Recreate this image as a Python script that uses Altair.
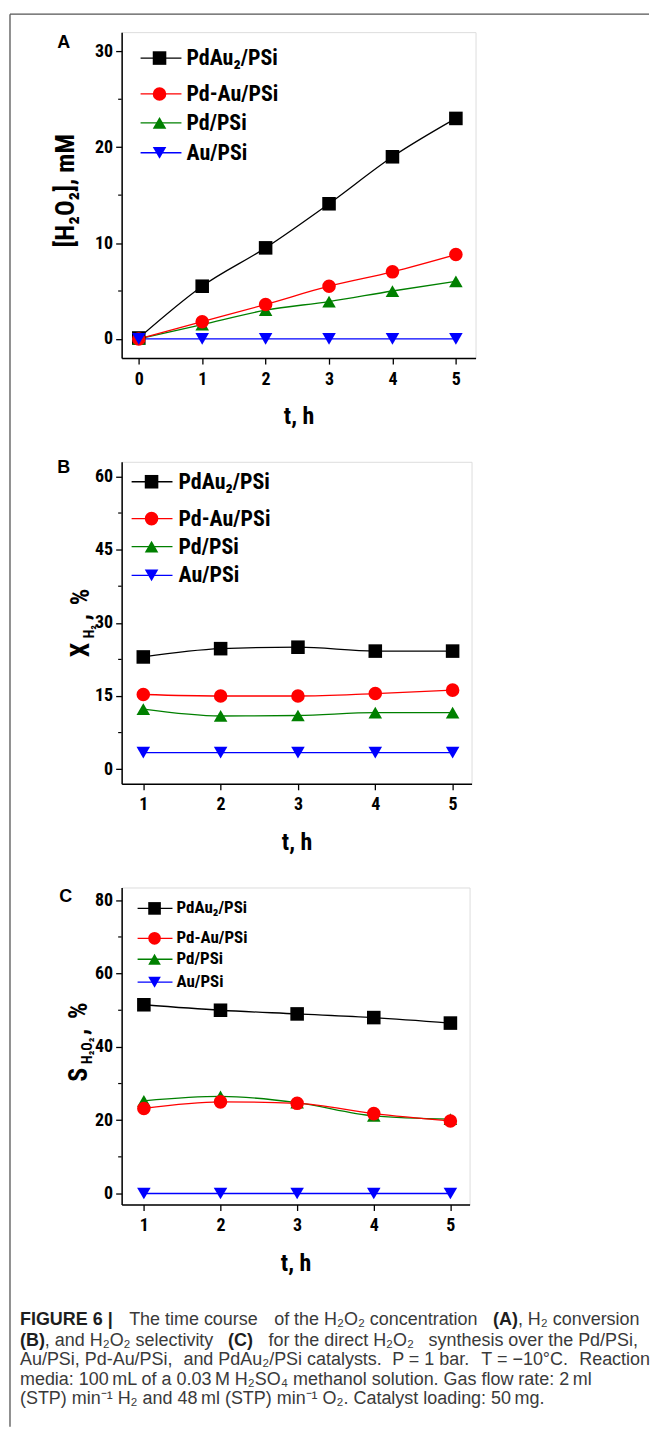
import altair as alt
import pandas as pd

# ---------------- data ----------------
series_names = ["PdAu₂/PSi", "Pd-Au/PSi", "Pd/PSi", "Au/PSi"]
series_colors = ["#000000", "#ff0000", "#008000", "#0000ff"]
series_shapes = ["square", "circle", "triangle-up", "triangle-down"]
draw_order = [0, 2, 1, 3]  # black, green, red, blue (blue on top)

t_a = [0, 1, 2, 3, 4, 5]
a_pdau2 = [0.1, 5.5, 9.5, 14.1, 19.0, 23.0]
a_pdau = [0.0, 1.8, 3.6, 5.5, 7.0, 8.8]
a_pd = [0.0, 1.5, 3.0, 3.9, 5.0, 6.0]
a_au = [0.0, 0.0, 0.0, 0.0, 0.0, 0.0]

t_bc = [1, 2, 3, 4, 5]
b_pdau2 = [23.0, 24.7, 25.0, 24.2, 24.2]
b_pdau = [15.3, 15.0, 15.0, 15.5, 16.2]
b_pd = [12.3, 10.9, 11.0, 11.6, 11.6]
b_au = [3.4, 3.4, 3.4, 3.4, 3.4]

c_pdau2 = [51.5, 50.0, 49.0, 48.0, 46.5]
c_pdau = [23.2, 25.0, 24.6, 21.8, 19.8]
c_pd = [25.3, 26.5, 24.8, 21.2, 20.3]
c_au = [0.0, 0.0, 0.0, 0.0, 0.0]

a_xticks = [0, 1, 2, 3, 4, 5]
bc_xticks = [1, 2, 3, 4, 5]
a_yticks = [0, 10, 20, 30]
a_yminor = [5, 15, 25]
b_yticks = [0, 15, 30, 45, 60]
b_yminor = [7.5, 22.5, 37.5, 52.5]
c_yticks = [0, 20, 40, 60, 80]
c_yminor = [10, 30, 50, 70]

panel_letters = ["A", "B", "C"]
x_title = "t, h"
a_ytitle = "[H₂O₂], mM"
b_ytitle = [("X", "main"), ("H₂", "sub"), (",", "main"), ("%", "main")]
c_ytitle = [("S", "main"), ("H₂O₂", "sub"), (",", "main"), ("%", "main")]

caption_lines = [
    [("FIGURE 6 |", True), ("The time course", False), ("of the H₂O₂ concentration", False),
     ("(A)", True), (", H₂ conversion", False)],
    [("(B)", True), (", and H₂O₂ selectivity", False), ("(C)", True), ("for the direct H₂O₂", False),
     ("synthesis over the Pd/PSi,", False)],
    [("Au/PSi, Pd-Au/PSi,", False), ("and PdAu₂/PSi catalysts.", False), ("P = 1 bar.", False),
     ("T = −10°C.", False), ("Reaction", False)],
    [("media: 100\u2009mL of a 0.03\u2009M H₂SO₄ methanol solution. Gas flow rate: 2\u2009ml", False)],
    [("(STP) min⁻¹ H₂ and 48\u2009ml (STP) min⁻¹ O₂. Catalyst loading: 50\u2009mg.", False)],
]
caption_space = [
    [False, True, True, True, False],
    [False, False, True, True, True],
    [False, True, True, True, True],
    [False],
    [False],
]

# ---------------- layout helpers ----------------
NARROW = "Roboto Condensed, Liberation Sans, sans-serif"
SANS = "Liberation Sans, Arial, sans-serif"

AR = {' ': .278, '!': .278, '(': .333, ')': .333, ',': .278, '-': .333, '.': .278, '/': .278,
      ':': .278, '=': .584, '|': .26, '°': .4, '−': .584, '\u2009': .17, '₂': .36, '₄': .36,
      '⁻': .36, '¹': .36}
for ch in "0123456789":
    AR[ch] = .556
AR.update(dict(A=.667, B=.667, C=.722, D=.722, E=.667, F=.611, G=.778, H=.722, I=.278, J=.5,
               K=.667, L=.556, M=.833, N=.722, O=.778, P=.667, Q=.778, R=.722, S=.667, T=.611,
               U=.722, V=.667, W=.944, X=.667, Y=.667, Z=.611))
AR.update(dict(a=.556, b=.556, c=.5, d=.556, e=.556, f=.278, g=.556, h=.556, i=.222, j=.222,
               k=.5, l=.222, m=.833, n=.556, o=.556, p=.556, q=.556, r=.333, s=.5, t=.278,
               u=.556, v=.5, w=.722, x=.5, y=.5, z=.5))
AB = dict(AR)
AB.update({'(': .333, ')': .333, '|': .28, 'A': .722, 'B': .722, 'C': .722, 'F': .611, 'G': .778,
           'I': .278, 'U': .722, 'R': .722, 'E': .667})


def tw(s, size, table):
    return sum(table.get(ch, 0.556) for ch in s) * size


def long_df(t, cols):
    rows = []
    for i in draw_order:
        for tt, v in zip(t, cols[i]):
            rows.append({"t": tt, "value": v, "series": series_names[i]})
    return pd.DataFrame(rows)


def one(text):
    return pd.DataFrame({"label": [text]})


MSIZE = 185
color_enc = alt.Color("series:N", scale=alt.Scale(domain=series_names, range=series_colors), legend=None)
shape_enc = alt.Shape("series:N", scale=alt.Scale(domain=series_names, range=series_shapes), legend=None)


def panel(t, cols, xdom, xticks, ydom, yticks, yminor, w, h, leg, letter, letter_pos, ytitle_layers):
    df = long_df(t, cols)
    xs = alt.Scale(domain=xdom, nice=False, zero=False)
    ys = alt.Scale(domain=ydom, nice=False, zero=False)
    xaxis = alt.Axis(values=xticks, format="d", title=x_title, titleFont=NARROW, titleFontSize=24,
                     titleFontWeight="bold", titleColor="black", titlePadding=17,
                     labelFont=NARROW, labelFontSize=18, labelFontWeight="bold", labelColor="black",
                     labelPadding=6, tickSize=6, tickWidth=1.3, tickColor="black",
                     domainColor="black", domainWidth=1.5, grid=False, labelFlush=False)
    yaxis = alt.Axis(values=yticks, format="d", title=None,
                     labelFont=NARROW, labelFontSize=18, labelFontWeight="bold", labelColor="black",
                     labelPadding=3, tickSize=6, tickWidth=1.3, tickColor="black",
                     domainColor="black", domainWidth=1.5, grid=False, labelFlush=False)
    X = alt.X("t:Q", scale=xs, axis=xaxis)
    Y = alt.Y("value:Q", scale=ys, axis=yaxis)

    minor = alt.Chart(pd.DataFrame({"value": yminor})).mark_rule(color="black", strokeWidth=1.2).encode(
        y=alt.Y("value:Q", scale=ys, axis=yaxis), x=alt.value(-3.5), x2=alt.value(0))
    lines = alt.Chart(df).mark_line(strokeWidth=1.3, interpolate="monotone").encode(
        x=X, y=Y, color=color_enc)
    pts = alt.Chart(df).mark_point(filled=True, opacity=1, size=MSIZE).encode(
        x=X, y=Y, color=color_enc, shape=shape_enc)
    layers = [minor, lines, pts]

    lx1, lx2, mx, txx, rows, fs, ms = leg
    for i, name in enumerate(series_names):
        d = one(name)
        layers.append(alt.Chart(d).mark_rule(color=series_colors[i], strokeWidth=1.3).encode(
            x=alt.value(lx1), x2=alt.value(lx2), y=alt.value(rows[i])))
        layers.append(alt.Chart(d).mark_point(filled=True, opacity=1, size=ms, shape=series_shapes[i],
                                              color=series_colors[i]).encode(
            x=alt.value(mx), y=alt.value(rows[i])))
        layers.append(alt.Chart(d).mark_text(align="left", baseline="middle", font=NARROW, fontSize=fs,
                                             fontWeight="bold", color="black").encode(
            x=alt.value(txx), y=alt.value(rows[i]), text="label:N"))

    layers.append(alt.Chart(one(letter)).mark_text(align="center", baseline="middle", font=SANS, fontSize=18,
                                                   fontWeight="bold", color="black").encode(
        x=alt.value(letter_pos[0]), y=alt.value(letter_pos[1]), text="label:N"))
    layers += ytitle_layers
    return alt.layer(*layers).properties(width=w, height=h)


def composite_title(pieces, offsets, base_x, start_y, main_size=26, sub_size=14, sub_shift=5):
    out = []
    for (text, kind), off in zip(pieces, offsets):
        size = main_size if kind == "main" else sub_size
        bx = base_x if kind == "main" else base_x + sub_shift
        out.append(alt.Chart(one(text)).mark_text(align="left", baseline="alphabetic", angle=270,
                                                  font=NARROW, fontSize=size, fontWeight="bold",
                                                  color="black").encode(
            x=alt.value(bx), y=alt.value(start_y - off), text="label:N"))
    return out


# ---------------- panels ----------------
a_title = [alt.Chart(one(a_ytitle)).mark_text(align="center", baseline="middle", angle=270, font=NARROW,
                                              fontSize=26, fontWeight="bold", color="black").encode(
    x=alt.value(-56), y=alt.value(159), text="label:N")]

# outer frame of the figure (drawn from panel A's coordinate frame)
frame = [
    alt.Chart(one("frame")).mark_rule(color="#555555", strokeWidth=1.3).encode(
        x=alt.value(-112), y=alt.value(-18), y2=alt.value(1399)),
    alt.Chart(one("frame")).mark_rule(color="#555555", strokeWidth=1.3).encode(
        x=alt.value(-112), x2=alt.value(529), y=alt.value(-18)),
]

pA = panel(t_a, [a_pdau2, a_pdau, a_pd, a_au], [-0.27, 5.31], a_xticks, [-2, 32], a_yticks, a_yminor,
           355, 327, (19, 60, 38, 65, [26, 62, 91, 121], 22, MSIZE), panel_letters[0], (-58, 11),
           a_title + frame)

pB = panel(t_bc, [b_pdau2, b_pdau, b_pd, b_au], [0.72, 5.245], bc_xticks, [-3, 63], b_yticks, b_yminor,
           351, 323, (10, 51, 30, 57, [20, 57, 85, 114], 22, MSIZE), panel_letters[1], (-58, 6),
           composite_title(b_ytitle, [0, 19, 37, 52], -33, 196))

pC = panel(t_bc, [c_pdau2, c_pdau, c_pd, c_au], [0.71, 5.25], bc_xticks, [-3, 83.5], c_yticks, c_yminor,
           349, 318, (16, 51, 33, 55, [21, 51, 72, 95], 17, 160), panel_letters[2], (-56, 10),
           composite_title(c_ytitle, [0, 18, 47, 63], -35, 195))

# ---------------- caption (justified lines) ----------------
cap_size = 18
line_y = [12, 33, 52, 72, 91]
cap_left = 20 - 122
cap_end = [641 - 122, 640 - 122, 652 - 122, None, None]


def cap_text(text, bold, x, y):
    return alt.Chart(one(text)).mark_text(
        align="left", baseline="middle", font=SANS, fontSize=cap_size,
        fontWeight="bold" if bold else "normal", color="#1e1e1e" if bold else "#3a3a3a").encode(
        x=alt.value(x), y=alt.value(y), text="label:N")


cap_layers = []
space_w = tw(" ", cap_size, AR)
for li, segs in enumerate(caption_lines):
    widths = [tw(text, cap_size, AB if bold else AR) for text, bold in segs]
    n_gaps = sum(1 for s in caption_space[li] if s)
    natural = sum(widths) + n_gaps * space_w
    extra = 0.0
    if cap_end[li] is not None and n_gaps > 0:
        extra = max(0.0, (cap_end[li] - cap_left - natural) / n_gaps)
    x = cap_left
    for si, (text, bold) in enumerate(segs):
        if caption_space[li][si]:
            x += space_w + extra
        cap_layers.append(cap_text(text, bold, x, line_y[li]))
        x += widths[si]
caption = alt.layer(*cap_layers).properties(width=340, height=100, view=alt.ViewBackground(stroke=None))

chart = alt.vconcat(pA, pB, pC, caption, spacing=104, bounds="flush").properties(
    padding={"left": 0, "top": 2, "right": 0, "bottom": 0},
    autosize=alt.AutoSizeParams(type="pad"),
).configure_view(stroke="black", strokeWidth=1.5).configure(background="white")

chart.save("out.html", embed_options={"renderer": "svg", "actions": False})
